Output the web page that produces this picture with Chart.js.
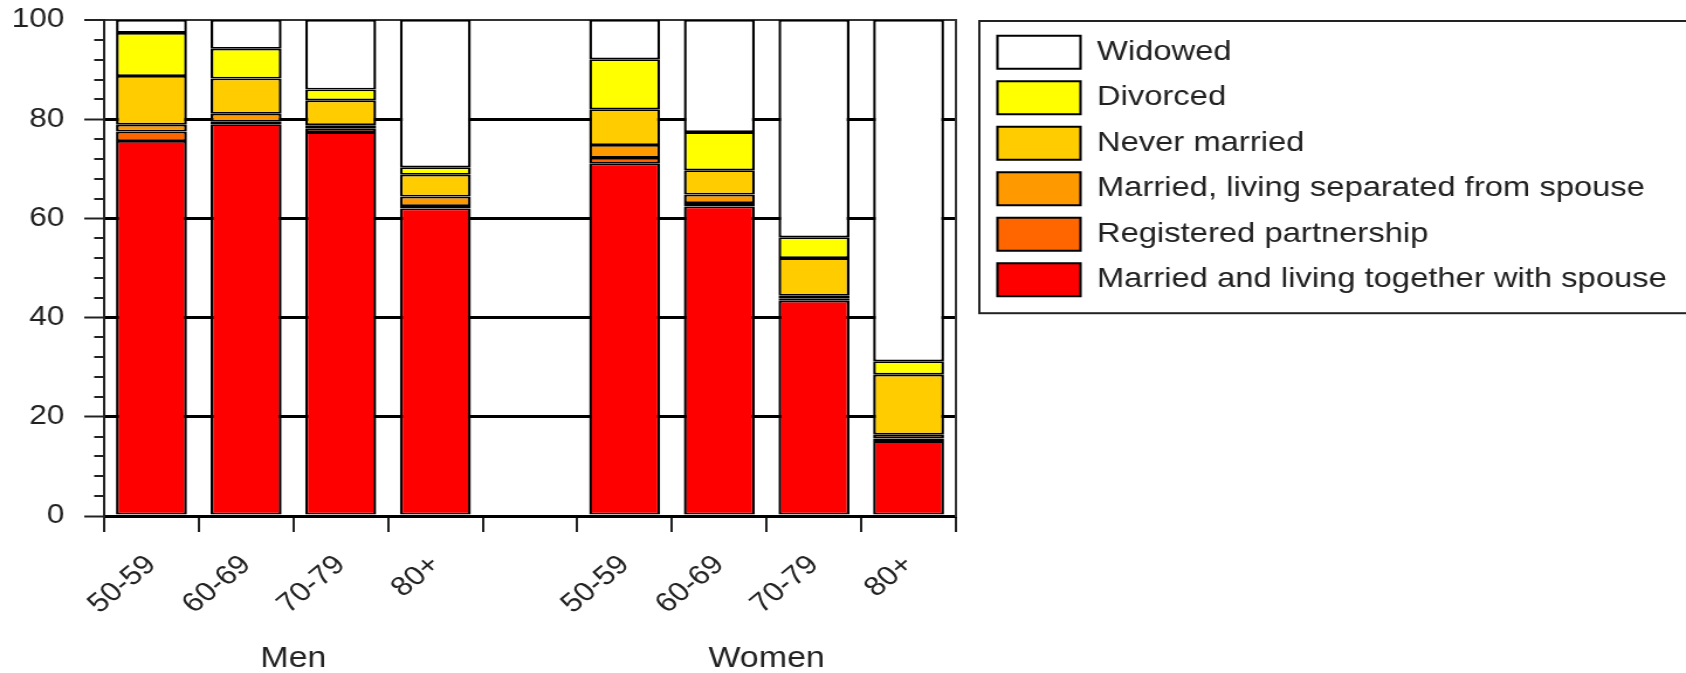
<!DOCTYPE html>
<html>
<head>
<meta charset="utf-8">
<script src="https://cdn.jsdelivr.net/npm/chart.js@4"></script>
<style>
  html, body { margin: 0; padding: 0; background: #fff; }
</style>
</head>
<body>
<!-- the original picture is stretched sideways, so the canvas is too -->
<canvas id="chart" width="1441" height="673" style="width:1686px;height:673px"></canvas>
<script>
const categories = ["50-59", "60-69", "70-79", "80+", "", "50-59", "60-69", "70-79", "80+"];
const groupLabels = ["Men", "Women"];

// bottom to top
const marriedTogether = [75.6, 79.0, 77.4, 62.0, null, 71.1, 62.4, 43.4, 15.1];
const registered      = [1.9, 0.5, 0.8, 0.5, null, 1.1, 0.7, 0.4, 0.5];
const separated       = [1.4, 1.6, 0.6, 1.9, null, 2.6, 1.7, 0.6, 0.8];
const neverMarried    = [9.8, 7.1, 5.0, 4.4, null, 7.2, 4.9, 7.6, 12.1];
const divorced        = [8.7, 6.0, 2.2, 1.5, null, 10.1, 7.7, 4.2, 2.7];
const widowed         = [2.6, 5.8, 14.0, 29.7, null, 7.9, 22.6, 43.8, 68.8];

const yTicks = [0, 20, 40, 60, 80, 100];

// group centres (in category units) from the runs of non-empty labels
const groupCenters = [];
let runStart = null;
categories.forEach((c, i) => {
    if (c !== "" && runStart === null) runStart = i;
    if ((c === "" || i === categories.length - 1) && runStart !== null) {
        const end = c === "" ? i : i + 1;
        groupCenters.push((runStart + end) / 2);
        runStart = null;
    }
});

Chart.defaults.font.family = "'Liberation Sans', Arial, Helvetica, sans-serif";
Chart.defaults.color = "#222";

const barBorder = { top: 1.8, bottom: 1.8, left: 2.4, right: 2.4 };
function serie(label, data, color) {
    return {
        label: label,
        data: data,
        backgroundColor: color,
        borderColor: "#000",
        borderWidth: barBorder,
        borderSkipped: false,
        barPercentage: 0.75,
        categoryPercentage: 1.0
    };
}

const titleH = 3.2;
const legendFrame = {
    id: "legendFrame",
    afterDraw(chart) {
        const lg = chart.legend;
        const ctx = chart.ctx;
        const bottom = lg.top + titleH + lg.columnSizes[0].height + 16;
        ctx.save();
        ctx.strokeStyle = "#222";
        ctx.lineWidth = 2;
        ctx.strokeRect(lg.left - 3, lg.top + 1, chart.width, bottom - lg.top);
        ctx.restore();
    }
};

new Chart(document.getElementById("chart"), {
    type: "bar",
    data: {
        labels: categories,
        datasets: [
            serie("Married and living together with spouse", marriedTogether, "#ff0000"),
            serie("Registered partnership", registered, "#ff6600"),
            serie("Married, living separated from spouse", separated, "#ff9900"),
            serie("Never married", neverMarried, "#ffcc00"),
            serie("Divorced", divorced, "#ffff00"),
            serie("Widowed", widowed, "#ffffff")
        ]
    },
    options: {
        responsive: false,
        devicePixelRatio: 1,
        animation: false,
        layout: { padding: { top: 20, right: 7, left: 0, bottom: 0 } },
        scales: {
            x: {
                stacked: true,
                grid: { offset: true, drawOnChartArea: false, color: "#222", lineWidth: 2, tickLength: 16 },
                border: { display: true, color: "#000", width: 3 },
                ticks: {
                    autoSkip: false, minRotation: 44, maxRotation: 44,
                    padding: 17, font: { size: 27 }, color: "#222"
                },
                afterFit: (a) => { a.height = 105; }
            },
            xGroup: {
                type: "linear",
                position: "bottom",
                offset: false,
                min: 0,
                max: categories.length,
                grid: { display: false, drawTicks: false },
                border: { display: false },
                afterBuildTicks: (a) => { a.ticks = groupCenters.map(v => ({ value: v })); },
                ticks: {
                    autoSkip: false, maxRotation: 0, padding: 21, font: { size: 29 }, color: "#222",
                    callback: (v) => groupLabels[groupCenters.indexOf(v)]
                },
                afterFit: (a) => { a.height = 52; }
            },
            y: {
                stacked: true,
                min: 0,
                max: 100,
                afterBuildTicks: (a) => {
                    const t = [];
                    for (let v = yTicks[0]; v <= yTicks[yTicks.length - 1]; v += 4) t.push({ value: v });
                    a.ticks = t;
                },
                ticks: {
                    autoSkip: false, padding: 17, font: { size: 27 }, color: "#222",
                    callback: (v) => yTicks.includes(v) ? v : ""
                },
                grid: {
                    color: (c) => c.tick.value === 100 ? "#333" : (yTicks.includes(c.tick.value) ? "#000" : "rgba(0,0,0,0)"),
                    lineWidth: (c) => c.tick.value === 100 ? 2 : (yTicks.includes(c.tick.value) ? 3 : 0),
                    tickColor: "#222",
                    tickWidth: 2,
                    tickLength: 17,
                    tickBorderDash: (c) => yTicks.includes(c.tick.value) ? [] : [0, 8.5, 40]
                },
                border: { display: true, color: "#222", width: 2 },
                afterFit: (a) => { a.width = 89; a.paddingTop = 0; a.paddingBottom = 0; }
            },
            yRight: {
                position: "right",
                min: 0,
                max: 100,
                grid: { display: false },
                ticks: { display: false },
                border: { display: true, color: "#333", width: 2 },
                afterFit: (a) => { a.width = 23; a.paddingTop = 0; a.paddingBottom = 0; }
            }
        },
        plugins: {
            tooltip: { enabled: false },
            legend: {
                position: "right",
                align: "start",
                reverse: true,
                maxWidth: 594,
                title: { display: true, text: " ", padding: { top: 0, bottom: 2 }, font: { size: 1 } },
                labels: {
                    boxWidth: 71,
                    boxHeight: 33,
                    padding: 12.5,
                    font: { size: 28 },
                    color: "#222"
                }
            }
        }
    },
    plugins: [legendFrame]
});
</script>
</body>
</html>
